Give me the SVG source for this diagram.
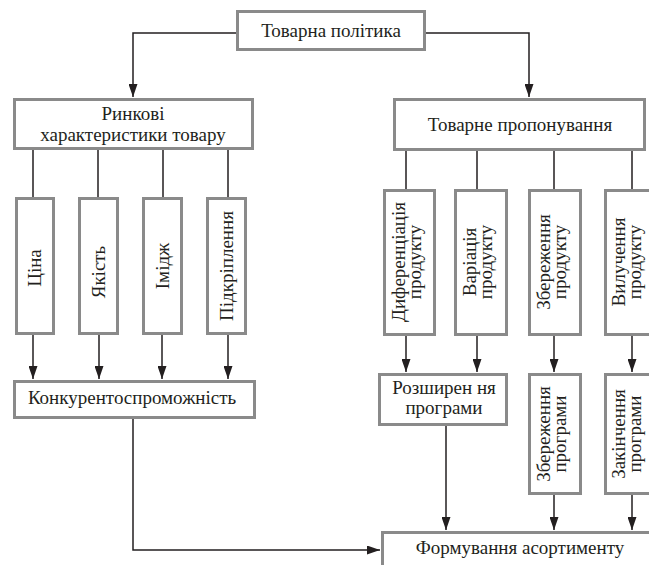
<svg xmlns="http://www.w3.org/2000/svg" width="649" height="565" viewBox="0 0 649 565">
<style>
.box{fill:#fff;stroke:#8a8a8a;stroke-width:3}
text{font-family:'Liberation Serif','Times New Roman','DejaVu Serif',serif;font-size:19px;fill:#231f20;text-anchor:middle}
.c{fill:none;stroke:#231f20;stroke-width:1.5}
</style>
<defs>
<marker id="ah" markerUnits="userSpaceOnUse" markerWidth="14" markerHeight="9" refX="13" refY="4.5" orient="auto">
<path d="M0,0 L13,4.5 L0,9 z" fill="#231f20"/>
</marker>
</defs>
<rect width="649" height="565" fill="#fff"/>
<g id="connectors">
<path class="c" d="M237,33 H133 V97" marker-end="url(#ah)"/>
<path class="c" d="M425,33 H529 V97" marker-end="url(#ah)"/>
<path class="c" d="M33,150 V197 M98,150 V197 M163,150 V197 M228,150 V197"/>
<path class="c" d="M33,335 V379" marker-end="url(#ah)"/>
<path class="c" d="M99,335 V379" marker-end="url(#ah)"/>
<path class="c" d="M162,335 V379" marker-end="url(#ah)"/>
<path class="c" d="M228,335 V379" marker-end="url(#ah)"/>
<path class="c" d="M406,151 V189 M477,151 V189 M554,151 V189 M632,151 V189"/>
<path class="c" d="M406,335 V372" marker-end="url(#ah)"/>
<path class="c" d="M477,335 V372" marker-end="url(#ah)"/>
<path class="c" d="M554,335 V372" marker-end="url(#ah)"/>
<path class="c" d="M632,335 V372" marker-end="url(#ah)"/>
<path class="c" d="M446,426 V530" marker-end="url(#ah)"/>
<path class="c" d="M554,495 V530" marker-end="url(#ah)"/>
<path class="c" d="M632,495 V530" marker-end="url(#ah)"/>
<path class="c" d="M133,419 V550 H380" marker-end="url(#ah)"/>
</g>
<g id="n-tovarna-polityka">
<rect class="box" x="237.5" y="11.5" width="187" height="38"/>
<text x="331" y="37" font-family="Liberation Serif">Товарна політика</text>
</g>
<g id="n-rynkovi">
<rect class="box" x="14.5" y="99.5" width="238" height="49"/>
<text x="133" y="120" font-size="18">Ринкові</text>
<text x="133" y="141" font-size="18">характеристики товару</text>
</g>
<g id="n-tovarne-proponuvannia">
<rect class="box" x="394.5" y="99.5" width="250" height="50"/>
<text x="520" y="131">Товарне пропонування</text>
</g>
<g id="n-tsina">
<rect class="box" x="16.5" y="198.5" width="37" height="135"/>
<text transform="translate(41,268) rotate(-90)">Ціна</text>
</g>
<g id="n-yakist">
<rect class="box" x="79.5" y="198.5" width="38" height="135"/>
<text transform="translate(105,272) rotate(-90)">Якість</text>
</g>
<g id="n-imidzh">
<rect class="box" x="143.5" y="198.5" width="38" height="135"/>
<text transform="translate(169,266) rotate(-90)">Імідж</text>
</g>
<g id="n-pidkriplennia">
<rect class="box" x="207.5" y="198.5" width="38" height="135"/>
<text transform="translate(233,266) rotate(-90)">Підкріплення</text>
</g>
<g id="n-konkurentospromozhnist">
<rect class="box" x="14.5" y="381.5" width="240" height="36"/>
<text x="132" y="404">Конкурентоспроможність</text>
</g>
<g id="n-dyferentsiatsiia">
<rect class="box" x="384.5" y="190.5" width="50" height="144"/>
<text transform="translate(404.5,262) rotate(-90)">Диференціація</text>
<text transform="translate(420.5,262) rotate(-90)">продукту</text>
</g>
<g id="n-variatsiia">
<rect class="box" x="455.5" y="190.5" width="51" height="144"/>
<text transform="translate(476,262) rotate(-90)">Варіація</text>
<text transform="translate(492,262) rotate(-90)">продукту</text>
</g>
<g id="n-zberezhennia-produktu">
<rect class="box" x="529.5" y="190.5" width="51" height="144"/>
<text transform="translate(550,262) rotate(-90)">Збереження</text>
<text transform="translate(566,262) rotate(-90)">продукту</text>
</g>
<g id="n-vyluchennia-produktu">
<rect class="box" x="605.5" y="190.5" width="56" height="144"/>
<text transform="translate(625,262) rotate(-90)">Вилучення</text>
<text transform="translate(641,262) rotate(-90)">продукту</text>
</g>
<g id="n-rozshyrennia">
<rect class="box" x="379.5" y="374.5" width="127" height="50"/>
<text x="444" y="394" font-size="18">Розширен ня</text>
<text x="444" y="414" font-size="18">програми</text>
</g>
<g id="n-zberezhennia-prohramy">
<rect class="box" x="529.5" y="374.5" width="51" height="119"/>
<text transform="translate(550,434) rotate(-90)">Збереження</text>
<text transform="translate(566,434) rotate(-90)">програми</text>
</g>
<g id="n-zakinchennia">
<rect class="box" x="605.5" y="374.5" width="56" height="119"/>
<text transform="translate(625,434) rotate(-90)">Закінчення</text>
<text transform="translate(641,434) rotate(-90)">програми</text>
</g>
<g id="n-formuvannia">
<rect class="box" x="382.5" y="532.5" width="290" height="45"/>
<text x="520" y="554">Формування асортименту</text>
</g>
</svg>
